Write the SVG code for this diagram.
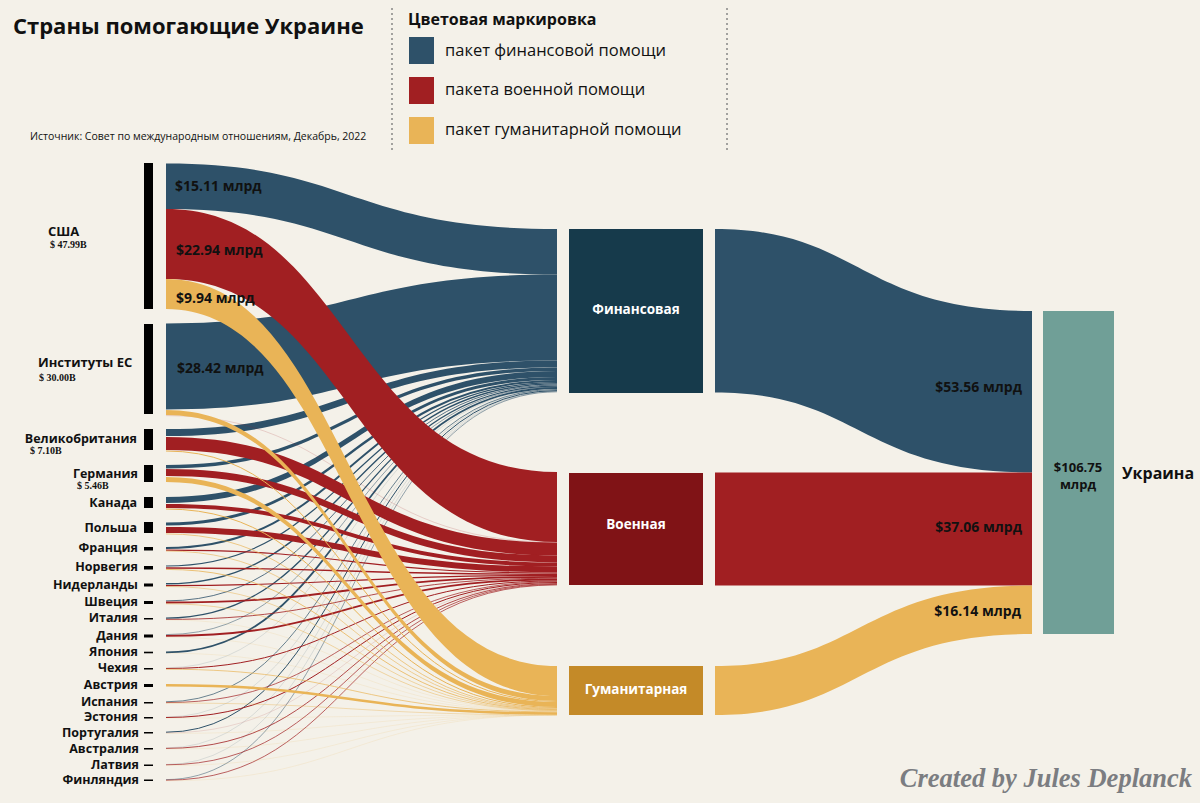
<svg xmlns="http://www.w3.org/2000/svg" width="1200" height="803" viewBox="0 0 1200 803">
<style>
.sans{font-family:"Open Sans","Noto Sans","DejaVu Sans",sans-serif}
.b{font-weight:700}
.fin{fill:#2e5169}
.mil{fill:#a11f22}
.hum{fill:#e9b457}
.sf{fill:none;stroke:#2e5169}
.sm{fill:none;stroke:#a11f22}
.sh{fill:none;stroke:#e9b457}
.fade{opacity:0.35}
.flbl{font-family:"Open Sans","Noto Sans",sans-serif;font-weight:700;font-size:14px;fill:#111}
.cty{font-family:"Open Sans","Noto Sans",sans-serif;font-weight:700;font-size:12.5px;fill:#111;text-anchor:end}
.big{font-family:"Open Sans","Noto Sans",sans-serif;font-weight:700;font-size:13px;fill:#111}
.val{font-family:"Liberation Serif","DejaVu Serif",serif;font-weight:700;font-size:10px;fill:#111}
.bar{fill:#000}
.ntxt{font-family:"Open Sans","Noto Sans",sans-serif;font-weight:700;font-size:13.5px;fill:#fff;text-anchor:middle}
.leg{font-family:"Open Sans","Noto Sans",sans-serif;font-size:16.5px;fill:#111}
</style>
<rect x="0" y="0" width="1200" height="803" fill="#f4f1e9"/>

<g id="header">
<text x="13" y="34" class="sans b" font-size="22" fill="#111">Страны помогающие Украине</text>
<text x="30" y="140" class="sans" font-size="10.5" fill="#111">Источник: Совет по международным отношениям, Декабрь, 2022</text>
<line x1="392" y1="8" x2="392" y2="150" stroke="#777" stroke-width="1.3" stroke-dasharray="2,3"/>
<line x1="727" y1="8" x2="727" y2="150" stroke="#777" stroke-width="1.3" stroke-dasharray="2,3"/>
</g>

<g id="legend">
<text x="408" y="25" class="sans b" font-size="16" fill="#111">Цветовая маркировка</text>
<rect x="409" y="37" width="25" height="27" class="fin"/>
<rect x="409" y="77" width="25" height="27" class="mil"/>
<rect x="409" y="117" width="25" height="27" class="hum"/>
<text x="445" y="56" class="leg">пакет финансовой помощи</text>
<text x="445" y="95" class="leg">пакета военной помощи</text>
<text x="445" y="135" class="leg">пакет гуманитарной помощи</text>
</g>

<g id="connectors">
<!-- financial (blue) -->
<path class="fin" d="M166,323.5 C350,323.5 350,274.5 557,274.5 L557,360.5 C350,360.5 350,409.5 166,409.5 Z"/>
<path class="fin" d="M166,163.5 C350,163.5 350,229 557,229 L557,274.5 C350,274.5 350,209 166,209 Z"/>
<path class="fin" d="M166,429 C350,429 350,360.5 557,360.5 L557,367.5 C350,367.5 350,436 166,436 Z"/>
<path class="fin" d="M166,465 C350,465 350,367.5 557,367.5 L557,371 C350,371 350,468.5 166,468.5 Z"/>
<path class="fin" d="M166,497 C350,497 350,371 557,371 L557,377 C350,377 350,503 166,503 Z"/>
<path class="fin" d="M166,522.5 C350,522.5 350,377 557,377 L557,380 C350,380 350,525.5 166,525.5 Z"/>
<g class="sf">
<path d="M166,548 C350,548 350,381 557,381" stroke-width="2"/>
<path d="M166,566 C350,566 350,382.6 557,382.6" stroke-width="1.2"/>
<path d="M166,583.8 C350,583.8 350,383.9 557,383.9" stroke-width="1.4"/>
<path d="M166,600.9 C350,600.9 350,385 557,385" stroke-width="0.8"/>
<path d="M166,618.1 C350,618.1 350,386.1 557,386.1" stroke-width="1.3"/>
<path d="M166,634.6 C350,634.6 350,386.9 557,386.9" stroke-width="0.5"/>
<path d="M166,652.4 C350,652.4 350,388 557,388" stroke-width="1.8"/>
<path class="fade" d="M166,667.8 C350,667.8 350,389 557,389" stroke-width="0.4"/>
<path d="M166,701.8 C350,701.8 350,389.5 557,389.5" stroke-width="0.7"/>
<path class="fade" d="M166,717 C350,717 350,390 557,390" stroke-width="0.4"/>
<path d="M166,732.2 C350,732.2 350,390.6 557,390.6" stroke-width="1"/>
<path class="fade" d="M166,747.9 C350,747.9 350,391.2 557,391.2" stroke-width="0.4"/>
<path class="fade" d="M166,764.5 C350,764.5 350,391.5 557,391.5" stroke-width="0.4"/>
<path d="M166,779.6 C350,779.6 350,391.8 557,391.8" stroke-width="0.5"/>
</g>
<!-- military (red) -->
<path class="mil" d="M166,209 C350,209 350,472 557,472 L557,542 C350,542 350,279 166,279 Z"/>
<path class="mil" d="M166,437 C350,437 350,542.4 557,542.4 L557,555.4 C350,555.4 350,450 166,450 Z"/>
<path class="mil" d="M166,469 C350,469 350,555.4 557,555.4 L557,562.4 C350,562.4 350,476 166,476 Z"/>
<path class="mil" d="M166,504 C350,504 350,562.4 557,562.4 L557,566.4 C350,566.4 350,508 166,508 Z"/>
<path class="mil" d="M166,527 C350,527 350,566.4 557,566.4 L557,572.4 C350,572.4 350,533 166,533 Z"/>
<g class="sm">
<path class="fade" d="M166,415.6 C350,415.6 350,542.2 557,542.2" stroke-width="0.5"/>
<path d="M166,550.1 C350,550.1 350,573 557,573" stroke-width="1.2"/>
<path d="M166,568 C350,568 350,574.25 557,574.25" stroke-width="1.3"/>
<path d="M166,585.6 C350,585.6 350,575.45 557,575.45" stroke-width="1.1"/>
<path d="M166,602.5 C350,602.5 350,576.9 557,576.9" stroke-width="1.8"/>
<path d="M166,619.4 C350,619.4 350,578.2 557,578.2" stroke-width="0.8"/>
<path d="M166,635.9 C350,635.9 350,579.5 557,579.5" stroke-width="1.8"/>
<path d="M166,668.5 C350,668.5 350,580.9 557,580.9" stroke-width="1"/>
<path d="M166,702.6 C350,702.6 350,581.7 557,581.7" stroke-width="0.7"/>
<path d="M166,717.5 C350,717.5 350,582.5 557,582.5" stroke-width="1"/>
<path class="fade" d="M166,732.9 C350,732.9 350,583.1 557,583.1" stroke-width="0.4"/>
<path d="M166,748.4 C350,748.4 350,583.6 557,583.6" stroke-width="0.8"/>
<path d="M166,764.8 C350,764.8 350,584.3 557,584.3" stroke-width="0.7"/>
<path d="M166,780.2 C350,780.2 350,584.9 557,584.9" stroke-width="0.7"/>
</g>
<!-- humanitarian (yellow) -->
<path class="hum" d="M166,410 C350,410 350,696 557,696 L557,701 C350,701 350,415 166,415 Z"/>
<path class="hum" d="M166,477 C350,477 350,702 557,702 L557,707 C350,707 350,482 166,482 Z"/>
<g class="sh">
<path d="M166,451 C350,451 350,701.5 557,701.5" stroke-width="1"/>
<path d="M166,509 C350,509 350,707.5 557,707.5" stroke-width="1"/>
<path d="M166,533.9 C350,533.9 350,708.35 557,708.35" stroke-width="0.7"/>
<path d="M166,551 C350,551 350,708.95 557,708.95" stroke-width="0.6"/>
<path d="M166,569.4 C350,569.4 350,709.6 557,709.6" stroke-width="0.8"/>
<path d="M166,586.5 C350,586.5 350,710.2 557,710.2" stroke-width="0.5"/>
<path d="M166,603.8 C350,603.8 350,710.6 557,710.6" stroke-width="0.5"/>
<path class="fade" d="M166,619.9 C350,619.9 350,710.9 557,710.9" stroke-width="0.4"/>
<path class="fade" d="M166,637.2 C350,637.2 350,711.15 557,711.15" stroke-width="0.4"/>
<path class="fade" d="M166,653.2 C350,653.2 350,711.45 557,711.45" stroke-width="0.4"/>
<path d="M166,669.2 C350,669.2 350,711.9 557,711.9" stroke-width="0.7"/>
<path d="M166,685.25 C350,685.25 350,713.45 557,713.45" stroke-width="2.5"/>
<path d="M166,703 C350,703 350,714.85 557,714.85" stroke-width="0.4"/>
<path class="fade" d="M166,718 C350,718 350,714.95 557,714.95" stroke-width="0.4"/>
<path class="fade" d="M166,733.4 C350,733.4 350,715 557,715" stroke-width="0.4"/>
<path class="fade" d="M166,749 C350,749 350,715 557,715" stroke-width="0.4"/>
<path class="fade" d="M166,765.5 C350,765.5 350,715 557,715" stroke-width="0.4"/>
<path class="fade" d="M166,780.8 C350,780.8 350,715 557,715" stroke-width="0.4"/>
</g>
<path class="hum" d="M166,279 C350,279 350,666 557,666 L557,696 C350,696 350,309 166,309 Z"/>
<!-- middle to Ukraine -->
<path class="fin" d="M715,229 C860,229 860,311 1032,311 L1032,472.5 C860,472.5 860,392.5 715,392.5 Z"/>
<path class="mil" d="M715,472.5 L1032,472.5 L1032,585.5 L715,585.5 Z"/>
<path class="hum" d="M715,666 C860,666 860,585.5 1032,585.5 L1032,634 C860,634 860,715 715,715 Z"/>
</g>

<g id="flow-labels">
<text x="175" y="191" class="flbl">$15.11 млрд</text>
<text x="176" y="255" class="flbl">$22.94 млрд</text>
<text x="176" y="303" class="flbl">$9.94 млрд</text>
<text x="177" y="373" class="flbl">$28.42 млрд</text>
<text x="1022" y="392" class="flbl" text-anchor="end">$53.56 млрд</text>
<text x="1022" y="532" class="flbl" text-anchor="end">$37.06 млрд</text>
<text x="1021" y="616" class="flbl" text-anchor="end">$16.14 млрд</text>
</g>

<g id="node-usa"><rect x="144" y="163" width="9" height="146" class="bar"/><text x="48" y="236" class="big">США</text><text x="50" y="248" class="val">$ 47.99B</text></g>
<g id="node-eu"><rect x="144" y="324" width="9" height="90" class="bar"/><text x="38" y="367" class="big">Институты ЕС</text><text x="39" y="381" class="val">$ 30.00B</text></g>
<g id="node-uk"><rect x="144" y="429" width="9" height="21" class="bar"/><text x="137" y="443" class="cty">Великобритания</text><text x="30" y="454" class="val">$ 7.10B</text></g>
<g id="node-de"><rect x="144" y="465" width="9" height="17" class="bar"/><text x="138" y="478" class="cty">Германия</text><text x="77" y="489" class="val">$ 5.46B</text></g>
<g id="node-ca"><rect x="144" y="497" width="9" height="11" class="bar"/><text x="137" y="507" class="cty">Канада</text></g>
<g id="node-pl"><rect x="144" y="522" width="9" height="11" class="bar"/><text x="137" y="532" class="cty">Польша</text></g>
<g id="node-fr"><rect x="144" y="547" width="9" height="3.5" class="bar"/><text x="138" y="552" class="cty">Франция</text></g>
<g id="node-no"><rect x="144" y="566" width="9" height="3.5" class="bar"/><text x="138" y="571" class="cty">Норвегия</text></g>
<g id="node-nl"><rect x="144" y="583.5" width="9" height="3" class="bar"/><text x="138" y="589" class="cty">Нидерланды</text></g>
<g id="node-se"><rect x="144" y="601" width="9" height="3" class="bar"/><text x="138" y="606" class="cty">Швеция</text></g>
<g id="node-it"><rect x="144" y="618" width="9" height="1.5" class="bar"/><text x="138" y="622" class="cty">Италия</text></g>
<g id="node-dk"><rect x="144" y="634.5" width="9" height="3" class="bar"/><text x="138" y="640" class="cty">Дания</text></g>
<g id="node-jp"><rect x="144" y="651.7" width="9" height="1.6" class="bar"/><text x="138" y="656" class="cty">Япония</text></g>
<g id="node-cz"><rect x="144" y="668" width="9" height="1.5" class="bar"/><text x="138" y="672" class="cty">Чехия</text></g>
<g id="node-at"><rect x="144" y="684" width="9" height="3" class="bar"/><text x="138" y="689" class="cty">Австрия</text></g>
<g id="node-es"><rect x="144" y="702" width="9" height="1.5" class="bar"/><text x="138" y="706" class="cty">Испания</text></g>
<g id="node-ee"><rect x="144" y="717" width="9" height="1.5" class="bar"/><text x="138" y="721" class="cty">Эстония</text></g>
<g id="node-pt"><rect x="144" y="732" width="9" height="1.5" class="bar"/><text x="139" y="737" class="cty">Португалия</text></g>
<g id="node-au"><rect x="144" y="748" width="9" height="1.5" class="bar"/><text x="139" y="753" class="cty">Австралия</text></g>
<g id="node-lv"><rect x="144" y="764.5" width="9" height="1.5" class="bar"/><text x="139" y="769" class="cty">Латвия</text></g>
<g id="node-fi"><rect x="144" y="779.5" width="9" height="1.5" class="bar"/><text x="139" y="784" class="cty">Финляндия</text></g>

<g id="node-financial"><rect x="569" y="229" width="134" height="164" fill="#163a4b"/><text x="636" y="314" class="ntxt">Финансовая</text></g>
<g id="node-military"><rect x="569" y="473" width="134" height="112" fill="#801316"/><text x="636" y="529" class="ntxt">Военная</text></g>
<g id="node-humanitarian"><rect x="569" y="666" width="134" height="49" fill="#c48a28"/><text x="636" y="694" class="ntxt">Гуманитарная</text></g>

<g id="node-ukraine"><rect x="1043" y="311" width="71" height="323" fill="#709f97"/>
<text x="1078" y="472" class="big" font-size="13.5" text-anchor="middle">$106.75</text>
<text x="1078" y="489" class="big" font-size="13.5" text-anchor="middle">млрд</text>
<text x="1122" y="479" class="sans b" font-size="16" fill="#111">Украина</text></g>

<text x="1192" y="787" font-family="'Liberation Serif','DejaVu Serif',serif" font-weight="700" font-style="italic" font-size="26.5" fill="#7b7d81" text-anchor="end">Created by Jules Deplanck</text>
</svg>
